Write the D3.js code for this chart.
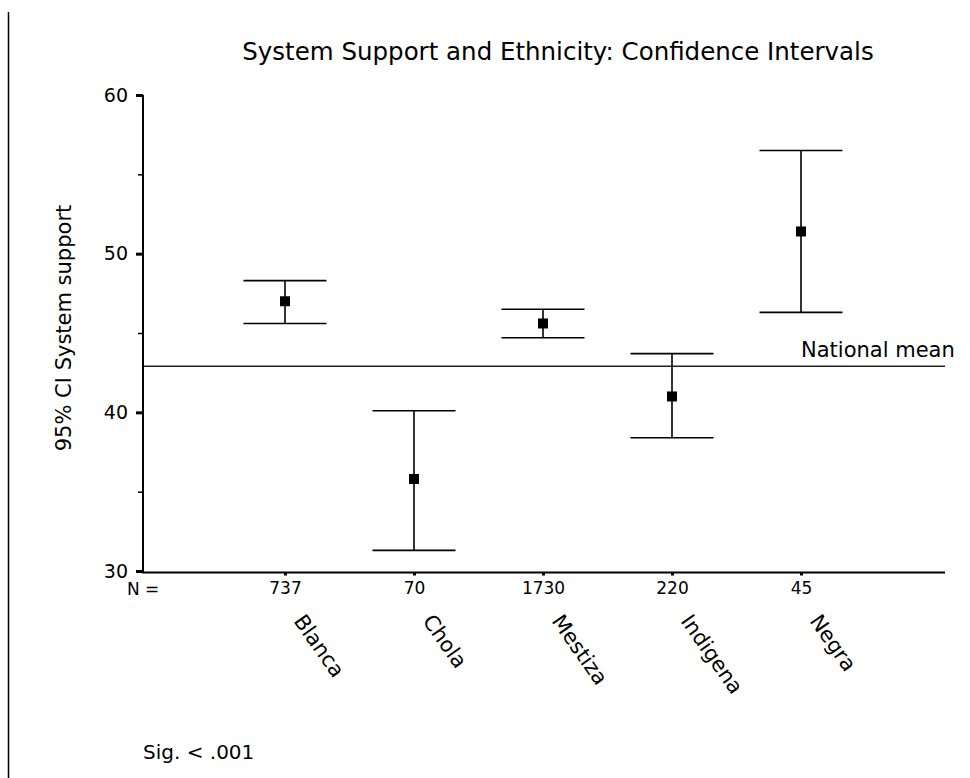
<!DOCTYPE html>
<html>
<head>
<meta charset="utf-8">
<script src="https://cdn.jsdelivr.net/npm/d3@7"></script>
<style>
  html, body { margin: 0; padding: 0; background: #fff; }
  svg { display: block; }
  text { font-family: "DejaVu Sans", sans-serif; fill: #000; }
</style>
</head>
<body>
<svg id="chart" width="970" height="778"></svg>
<script>
// ---- data ----
const categories = ["Blanca", "Chola", "Mestiza", "Indigena", "Negra"];
const nValues    = ["737", "70", "1730", "220", "45"];
const means      = [47.0, 35.8, 45.6, 41.0, 51.4];
const lowerCI    = [45.6, 31.3, 44.7, 38.4, 46.3];
const upperCI    = [48.3, 40.1, 46.5, 43.7, 56.5];
const nationalMean = 42.9;
const yMajorTicks = [30, 40, 50, 60];
const yMinorTicks = [35, 45, 55];
const titleText = "System Support and Ethnicity: Confidence Intervals";
const yLabel = "95% CI System support";
const sigText = "Sig. < .001";

// ---- layout ----
const svg = d3.select("#chart");
const plotLeft = 143, plotRight = 945;
const y = d3.scaleLinear().domain([30, 60]).range([571, 95]);
const x = d3.scalePoint().domain(categories).range([285, 801]);
const axisY = y(30) + 1.5;

// left frame line
svg.append("line")
  .attr("x1", 8.5).attr("x2", 8.5).attr("y1", 12).attr("y2", 778)
  .attr("stroke", "#000").attr("stroke-width", 1.5);

// title
svg.append("text")
  .attr("x", 558).attr("y", 60)
  .attr("text-anchor", "middle")
  .style("font-size", "24.5px")
  .text(titleText);

// y axis label
svg.append("text")
  .attr("transform", "translate(71,328) rotate(-90)")
  .attr("text-anchor", "middle")
  .style("font-size", "21px")
  .text(yLabel);

// national mean line
svg.append("line")
  .attr("x1", plotLeft).attr("x2", plotRight)
  .attr("y1", y(nationalMean)).attr("y2", y(nationalMean))
  .attr("stroke", "#222").attr("stroke-width", 1.6);
svg.append("text")
  .attr("x", 801).attr("y", y(nationalMean) - 9)
  .style("font-size", "21px")
  .text("National mean");

// y axis: major ticks
const gyMajor = svg.append("g")
  .attr("transform", `translate(${plotLeft},0)`)
  .call(d3.axisLeft(y).tickValues(yMajorTicks).tickSize(7).tickPadding(8).tickFormat(d3.format("d")));
gyMajor.select(".domain").remove();
gyMajor.selectAll(".tick line").attr("stroke", "#000").attr("stroke-width", 3);
gyMajor.selectAll(".tick text")
  .style("font-family", "'DejaVu Sans', sans-serif")
  .style("font-size", "19px").attr("fill", "#000");

// y axis: minor ticks
const gyMinor = svg.append("g")
  .attr("transform", `translate(${plotLeft},0)`)
  .call(d3.axisLeft(y).tickValues(yMinorTicks).tickSize(5).tickFormat(""));
gyMinor.select(".domain").remove();
gyMinor.selectAll(".tick line").attr("stroke", "#000").attr("stroke-width", 1.5);

// y axis line
svg.append("line")
  .attr("x1", plotLeft).attr("x2", plotLeft)
  .attr("y1", y(60)).attr("y2", axisY)
  .attr("stroke", "#000").attr("stroke-width", 2);

// x axis line
svg.append("line")
  .attr("x1", plotLeft - 1).attr("x2", plotRight)
  .attr("y1", axisY).attr("y2", axisY)
  .attr("stroke", "#000").attr("stroke-width", 2);

// x axis with N labels
const gx = svg.append("g")
  .attr("transform", `translate(0,${axisY})`)
  .call(d3.axisBottom(x).tickSize(3).tickPadding(6).tickFormat((d, i) => nValues[i]));
gx.select(".domain").remove();
gx.selectAll(".tick line").attr("stroke", "#000").attr("stroke-width", 3);
gx.selectAll(".tick text")
  .style("font-family", "'DejaVu Sans', sans-serif")
  .style("font-size", "17px").attr("fill", "#000");

svg.append("text")
  .attr("x", 127).attr("y", axisY + 22)
  .style("font-size", "17px")
  .text("N =");

// rotated category labels
svg.append("g").selectAll("text")
  .data(categories)
  .join("text")
  .attr("transform", d => `translate(${x(d) + 8},621) rotate(55)`)
  .style("font-size", "21px")
  .text(d => d);

// error bars
const capHalf = 41.5;
const bars = svg.append("g").selectAll("g")
  .data(categories.map((c, i) => ({c, m: means[i], lo: lowerCI[i], hi: upperCI[i]})))
  .join("g");
bars.append("line")
  .attr("x1", d => x(d.c)).attr("x2", d => x(d.c))
  .attr("y1", d => y(d.hi)).attr("y2", d => y(d.lo))
  .attr("stroke", "#000").attr("stroke-width", 1.6);
bars.append("line")
  .attr("x1", d => x(d.c) - capHalf).attr("x2", d => x(d.c) + capHalf)
  .attr("y1", d => y(d.hi)).attr("y2", d => y(d.hi))
  .attr("stroke", "#000").attr("stroke-width", 1.6);
bars.append("line")
  .attr("x1", d => x(d.c) - capHalf).attr("x2", d => x(d.c) + capHalf)
  .attr("y1", d => y(d.lo)).attr("y2", d => y(d.lo))
  .attr("stroke", "#000").attr("stroke-width", 1.6);
bars.append("rect")
  .attr("x", d => x(d.c) - 5).attr("y", d => y(d.m) - 5)
  .attr("width", 10).attr("height", 10)
  .attr("fill", "#000");

// significance note
svg.append("text")
  .attr("x", 143).attr("y", 759)
  .style("font-size", "20px")
  .text(sigText);
</script>
</body>
</html>
